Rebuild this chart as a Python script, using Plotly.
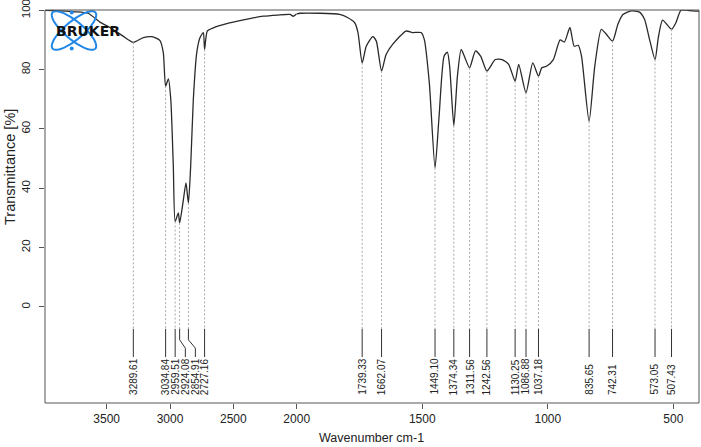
import math
import plotly.graph_objects as go

# ---------------- data ----------------
wn_high = [3987, 3868, 3750, 3647, 3553, 3474, 3371, 3290, 3211, 3144,
           3079, 3053, 3034.8, 3013, 2994, 2974, 2959.5, 2934.5, 2924.1, 2895,
           2874, 2854.9, 2837, 2816, 2789, 2763, 2737, 2727.2, 2706, 2658,
           2552, 2447, 2369, 2264, 2150, 2053, 2027, 2000]
T_high = [100, 99.8, 99.5, 99, 96, 94.2, 91.3, 89.2, 90.8, 91.1,
          89.8, 85.7, 74.4, 76.9, 69.9, 47.4, 28.8, 31.7, 28.3, 36,
          41.8, 35, 47.4, 69.9, 85.7, 90.8, 92.5, 86.8, 93, 94.1,
          95.5, 96.5, 97.2, 98, 98.4, 98.6, 98, 98.8]

wn_low = [2000, 1987, 1908, 1829, 1796, 1769, 1756, 1739.3, 1723, 1697,
          1683, 1662.1, 1644, 1618, 1565, 1539, 1505, 1492, 1472, 1449.1,
          1433, 1413, 1400, 1391, 1374.3, 1360, 1345, 1330, 1311.6, 1288,
          1267, 1242.6, 1209, 1182, 1156, 1130.3, 1116, 1086.9, 1060, 1037.2,
          1024, 1004, 978, 951, 934, 912, 895, 879, 866, 835.7,
          813, 787, 767, 742.3, 721, 701, 668, 635, 615, 595,
          573.1, 560, 543, 507.4, 490, 470, 444, 408, 398]
T_low = [98.8, 99, 99, 98.6, 97.5, 95.8, 92.5, 82.3, 87.9, 91.1,
         89.6, 79.5, 85.1, 88.5, 93, 92.5, 92.5, 90.2, 75.6, 46.9,
         64.3, 84.6, 85.9, 81.2, 61.1, 77.8, 86.8, 84, 80.6, 86.3,
         84.5, 79.5, 83.4, 83.4, 81.8, 76.1, 81.8, 72.2, 82.3, 77.8,
         80.6, 81.2, 83.4, 90, 89.3, 94.2, 87.9, 88.2, 84.6, 62.6,
         81.2, 93.6, 91.9, 89.6, 95.3, 98.6, 99.8, 99.4, 97, 90.2,
         83.4, 90.8, 96.7, 93.6, 95.8, 100, 100, 99.7, 99.7]

peak_wn = [3289.61, 3034.84, 2959.51, 2924.08, 2854.91, 2727.16, 1739.33, 1662.07,
           1449.10, 1374.34, 1311.56, 1242.56, 1130.25, 1086.88, 1037.18, 835.65,
           742.31, 573.05, 507.43]
peak_T = [89.2, 74.4, 28.8, 28.3, 35, 86.8, 82.3, 79.5,
          46.9, 61.1, 80.6, 79.5, 76.1, 72.2, 77.8, 62.6,
          89.6, 83.4, 93.6]
# label positions (some shifted apart to avoid overlap)
label_wn = [3289.61, 3034.84, 2959.51, 2879, 2800, 2727.16, 1739.33, 1662.07,
            1449.10, 1374.34, 1311.56, 1242.56, 1130.25, 1086.88, 1037.18, 835.65,
            742.31, 573.05, 507.43]

x_ticks_high = [3500, 3000, 2500, 2000]
x_ticks_low = [1500, 1000, 500]
y_ticks = [0, 20, 40, 60, 80, 100]

# ---------------- figure ----------------
W, H = 701, 447
ML, MR, MT, MB = 45, 2, 10, 44
PW, PH = W - ML - MR, H - MT - MB
split = (296.7 - 45) / PW

FONT = "Liberation Sans, Arial, sans-serif"
CURVE = "#2a2a2a"

fig = go.Figure()

fig.add_trace(go.Scatter(x=wn_high, y=T_high, xaxis="x", yaxis="y", mode="lines",
                         line=dict(color=CURVE, width=1.3, shape="spline", smoothing=0.6),
                         hoverinfo="x+y"))
fig.add_trace(go.Scatter(x=wn_low, y=T_low, xaxis="x2", yaxis="y", mode="lines",
                         line=dict(color=CURVE, width=1.3, shape="spline", smoothing=0.6),
                         hoverinfo="x+y"))

Y_DASH_END = -7.4
Y_K1, Y_K2, Y_END = -11.1, -13.9, -16.9
Y_LABEL = -30.4

for ax, cond in (("x", lambda w: w >= 2000), ("x2", lambda w: w < 2000)):
    dx, dy, sx, sy = [], [], [], []
    for w, t, lw in zip(peak_wn, peak_T, label_wn):
        if not cond(w):
            continue
        dx += [w, w, None]
        dy += [t, Y_DASH_END, None]
        if abs(lw - w) > 1e-6:
            sx += [w, w, lw, lw, None]
            sy += [Y_DASH_END, Y_K1, Y_K2, Y_END, None]
        else:
            sx += [w, w, None]
            sy += [Y_DASH_END, Y_END, None]
    fig.add_trace(go.Scatter(x=dx, y=dy, xaxis=ax, yaxis="y", mode="lines",
                             line=dict(color="#a8a8a8", width=1, dash="2px,2px"),
                             hoverinfo="skip"))
    fig.add_trace(go.Scatter(x=sx, y=sy, xaxis=ax, yaxis="y", mode="lines",
                             line=dict(color="#333333", width=1),
                             hoverinfo="skip"))

annotations = []
for w, lw in zip(peak_wn, label_wn):
    annotations.append(dict(
        x=lw, y=Y_LABEL, xref="x" if w >= 2000 else "x2", yref="y",
        text=f"{w:.2f}", showarrow=False, textangle=-90,
        xanchor="center", yanchor="bottom",
        font=dict(family=FONT, size=10, color="#222")))


def pp(px, py):
    return (px - ML) / PW, (H - MB - py) / PH


# axis titles
tx, ty = pp(371.5, 438)
annotations.append(dict(x=tx, y=ty, xref="paper", yref="paper",
                        text="Wavenumber cm-1", showarrow=False,
                        xanchor="center", yanchor="middle",
                        font=dict(family=FONT, size=12.5, color="#222")))
tx, ty = pp(10, 167)
annotations.append(dict(x=tx, y=ty, xref="paper", yref="paper",
                        text="Transmittance [%]", showarrow=False, textangle=-90,
                        xanchor="center", yanchor="middle",
                        font=dict(family=FONT, size=14.5, color="#222")))

# Bruker logo (decoration)
shapes = []
cx, cy, a, b = 74, 30.5, 28, 9
for ang in (40, -40):
    th = math.radians(ang)
    pts = []
    for i in range(73):
        t = 2 * math.pi * i / 72
        ex, ey = a * math.cos(t), b * math.sin(t)
        rx = cx + ex * math.cos(th) - ey * math.sin(th)
        ry = cy + ex * math.sin(th) + ey * math.cos(th)
        pts.append(pp(rx, ry))
    path = "M " + " L ".join(f"{x:.5f},{y:.5f}" for x, y in pts) + " Z"
    shapes.append(dict(type="path", path=path, xref="paper", yref="paper",
                       line=dict(color="#2188e8", width=2), layer="above"))
for dpx, dpy in ((71.7, 12.5), (71.7, 48.5)):
    x0, y0 = pp(dpx - 2, dpy - 2)
    x1, y1 = pp(dpx + 2, dpy + 2)
    shapes.append(dict(type="circle", xref="paper", yref="paper",
                       x0=x0, y0=y0, x1=x1, y1=y1,
                       fillcolor="#2188e8", line=dict(width=0), layer="above"))
lx, ly = pp(88, 31)
annotations.append(dict(x=lx, y=ly, xref="paper", yref="paper", text="<b>BRUKER</b>",
                        showarrow=False, xanchor="center", yanchor="middle",
                        font=dict(family="DejaVu Sans, sans-serif", size=14, color="#111")))

# plot box
shapes.append(dict(type="rect", xref="paper", yref="paper", x0=0, y0=0, x1=1, y1=1,
                   line=dict(color="#555555", width=1), layer="above"))

axis_common = dict(showgrid=False, zeroline=False, showline=False, automargin=False,
                   ticks="outside", ticklen=5, tickcolor="#555555", tickwidth=1,
                   ticklabeloverflow="allow")

fig.update_layout(
    width=W, height=H,
    margin=dict(l=ML, r=MR, t=MT, b=MB, autoexpand=False),
    paper_bgcolor="white", plot_bgcolor="white",
    showlegend=False,
    xaxis=dict(domain=[0, split], range=[3987, 2000], anchor="y",
               tickvals=x_ticks_high, ticktext=[str(v) for v in x_ticks_high],
               tickfont=dict(family=FONT, size=12, color="#222"),
               **axis_common),
    xaxis2=dict(domain=[split, 1], range=[2000, 398], anchor="y",
                tickvals=x_ticks_low, ticktext=[str(v) for v in x_ticks_low],
                tickfont=dict(family=FONT, size=12, color="#222"),
                **axis_common),
    yaxis=dict(range=[-32.4, 100.1], anchor="x", tickvals=y_ticks, tickangle=-90,
               ticklabelstandoff=4,
               tickfont=dict(family=FONT, size=11.5, color="#222"),
               **axis_common),
    annotations=annotations,
    shapes=shapes,
)

fig.write_html("out.html",
               config={"displayModeBar": False},
               post_script="document.body.style.margin='0';document.body.style.overflow='hidden';")
